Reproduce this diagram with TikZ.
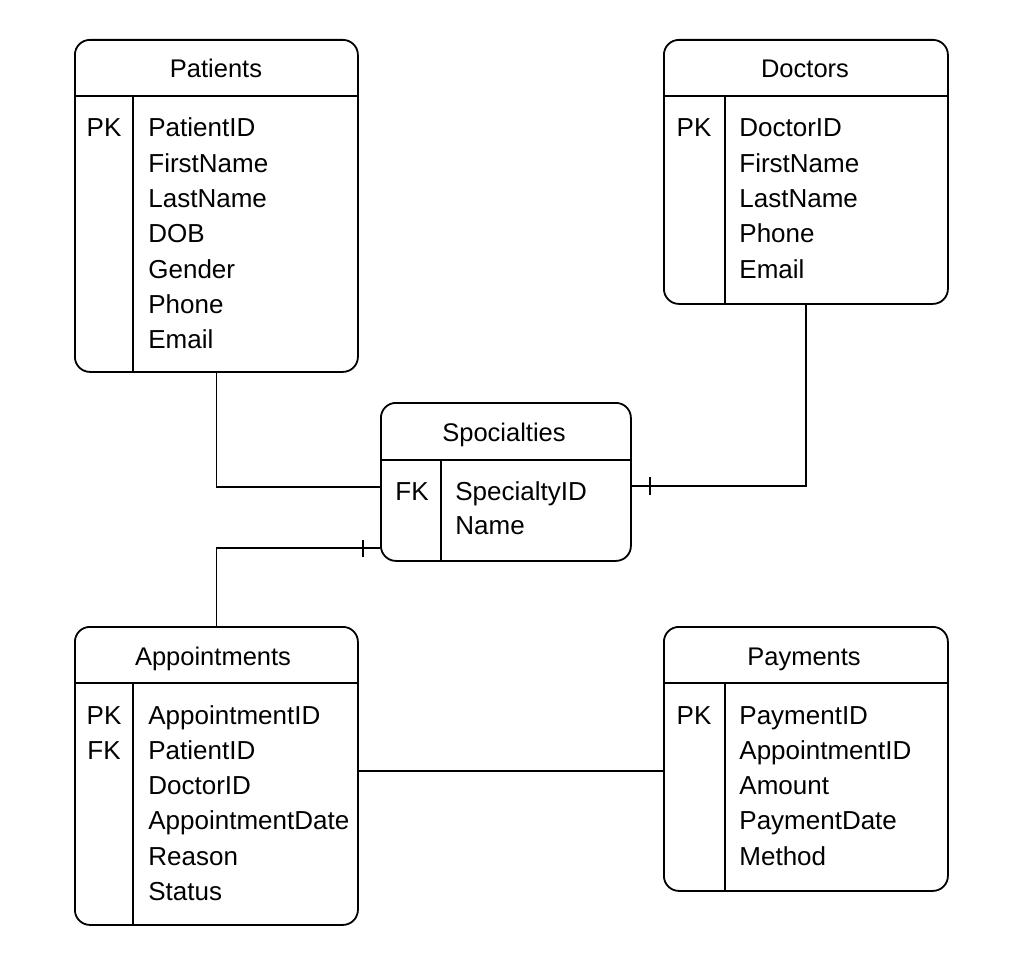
\documentclass[tikz,border=0pt]{standalone}
\usepackage{fontspec}
\setmainfont{Liberation Sans}
\begin{document}
\begin{tikzpicture}[x=1pt,y=-1pt,line width=1.8pt,
  entity/.style={draw,rounded corners=15pt,inner sep=0pt,anchor=north west},
  title/.style={font=\fontsize{25.5}{30}\selectfont,anchor=base,inner sep=0pt},
  field/.style={font=\fontsize{26}{30}\selectfont,anchor=base west,inner sep=0pt},
  key/.style={font=\fontsize{26}{30}\selectfont,anchor=base,inner sep=0pt},
  tick/.style={line width=1.5pt}]
\useasboundingbox (0,0) rectangle (1024,960);
% Patients
\node[entity,minimum width=283pt,minimum height=332pt] (pat) at (74,39) {};
\draw (74,96) -- (357,96) (133,96) -- (133,371);
\node[title] (patT) at (216,78) {Patients};
\node[key] (patK) at (104,137) {PK};
\foreach \t [count=\i from 0] in {PatientID,FirstName,LastName,DOB,Gender,Phone,Email}
  \node[field] (patf\i) at (147.5,137+35.3*\i) {\t};
% Doctors
\node[entity,minimum width=284pt,minimum height=264pt] (doc) at (663,39) {};
\draw (663,96) -- (947,96) (725,96) -- (725,303);
\node[title] (docT) at (805,78) {Doctors};
\node[key] (docK) at (694,137) {PK};
\foreach \t [count=\i from 0] in {DoctorID,FirstName,LastName,Phone,Email}
  \node[field] (docf\i) at (738.5,137+35.3*\i) {\t};
% Specialties
\node[entity,minimum width=250pt,minimum height=158pt] (spec) at (380,402) {};
\draw (380,460) -- (630,460) (441,460) -- (441,560);
\node[title] (specT) at (504,441) {Spocialties};
\node[key] (specK) at (412,500) {FK};
\node[field] (specf0) at (454.5,500) {SpecialtyID};
\node[field] (specf1) at (454.5,534) {Name};
% Appointments
\node[entity,minimum width=283pt,minimum height=298pt] (app) at (74,626) {};
\draw (74,683) -- (357,683) (133,683) -- (133,924);
\node[title] (appT) at (213,665) {Appointments};
\node[key] (appK1) at (104,724) {PK};
\node[key] (appK2) at (104,759) {FK};
\foreach \t [count=\i from 0] in {AppointmentID,PatientID,DoctorID,AppointmentDate,Reason,Status}
  \node[field] (appf\i) at (147.5,724+35.3*\i) {\t};
% Payments
\node[entity,minimum width=284pt,minimum height=264pt] (pay) at (663,626) {};
\draw (663,683) -- (947,683) (725,683) -- (725,890);
\node[title] (payT) at (804,665) {Payments};
\node[key] (payK) at (694,724) {PK};
\foreach \t [count=\i from 0] in {PaymentID,AppointmentID,Amount,PaymentDate,Method}
  \node[field] (payf\i) at (738.5,724+35.3*\i) {\t};
% Connectors
\draw (pat.south) |- ([yshift=-5pt]spec.west);
\draw (doc.south) |- ([yshift=-4pt]spec.east);
\draw[tick] ([xshift=18pt,yshift=-13pt]spec.east) -- ([xshift=18pt,yshift=5pt]spec.east);
\draw (app.north) |- ([yshift=-66pt]spec.west);
\draw[tick] ([xshift=-17pt,yshift=-58pt]spec.west) -- ([xshift=-17pt,yshift=-75pt]spec.west);
\draw ([yshift=5pt]app.east) -- ([yshift=-12pt]pay.west);
\end{tikzpicture}
\end{document}
